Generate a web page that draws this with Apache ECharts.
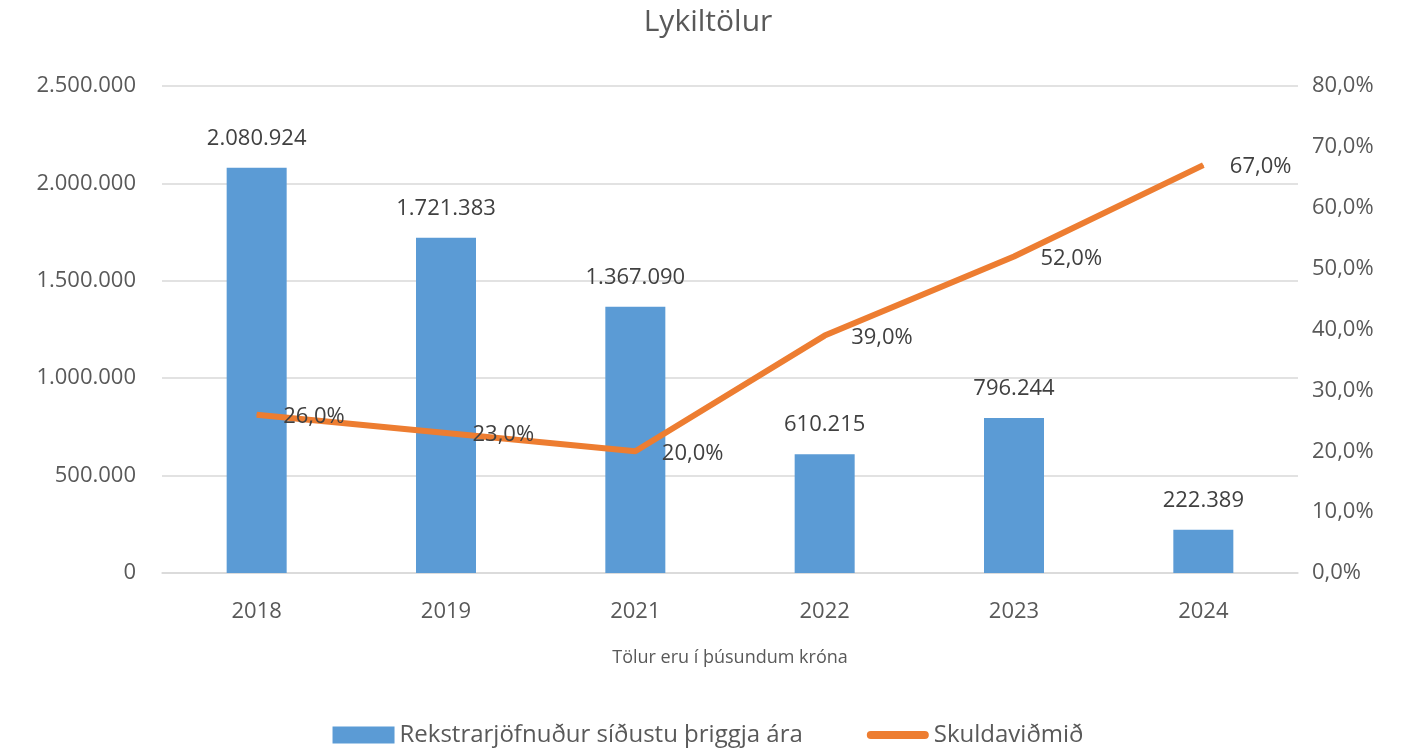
<!DOCTYPE html>
<html>
<head>
<meta charset="utf-8">
<script src="https://cdn.jsdelivr.net/npm/echarts@6/dist/echarts.min.js"></script>
<style>
  html, body { margin: 0; padding: 0; background: #fff; }
  #main { width: 1416px; height: 749px; }
</style>
</head>
<body>
<div id="main"></div>
<script>
// gögn
var years = ['2018', '2019', '2021', '2022', '2023', '2024']
var revenue = [2080924, 1721383, 1367090, 610215, 796244, 222389]
var debtRatio = [26.0, 23.0, 20.0, 39.0, 52.0, 67.0]

var FONT = '"Open Sans", "Noto Sans", sans-serif'
var GREY = '#595959'

function fmtNum (v) {
  return String(Math.round(v)).replace(/\B(?=(\d{3})+(?!\d))/g, '.')
}
function fmtPct (v) {
  return v.toFixed(1).replace('.', ',') + '%'
}

var myChart = echarts.init(document.getElementById('main'))
myChart.setOption({
  animation: false,
  textStyle: { fontFamily: FONT },
  title: {
    text: 'Lykiltölur',
    left: 'center',
    top: 2,
    textStyle: { fontSize: 30, fontWeight: 'normal', color: GREY, fontFamily: FONT }
  },
  grid: { left: 162, right: 118, top: 86, bottom: 176 },
  legend: {
    bottom: -3,
    left: 'center',
    itemGap: 64,
    itemWidth: 62,
    itemHeight: 17,
    textStyle: { fontSize: 24, color: GREY, fontFamily: FONT },
    data: [
      { name: 'Rekstrarjöfnuður síðustu þriggja ára', icon: 'rect' },
      { name: 'Skuldaviðmið', icon: 'path://M4,0 H58 A4,4 0 0 1 58,8 H4 A4,4 0 0 1 4,0 Z' }
    ]
  },
  xAxis: {
    type: 'category',
    data: years,
    name: 'Tölur eru í þúsundum króna',
    nameLocation: 'middle',
    nameGap: 76,
    nameTextStyle: { fontSize: 18, color: GREY },
    axisLine: { lineStyle: { color: '#D9D9D9', width: 1.5 } },
    axisTick: { show: false },
    axisLabel: { fontSize: 22, color: GREY, margin: 28 }
  },
  yAxis: [
    {
      type: 'value',
      min: 0,
      max: 2500000,
      interval: 500000,
      axisLine: { show: false },
      axisTick: { show: false },
      splitLine: { lineStyle: { color: '#D9D9D9', width: 1.5 } },
      axisLabel: { fontSize: 22, color: GREY, margin: 26, formatter: fmtNum }
    },
    {
      type: 'value',
      min: 0,
      max: 80,
      interval: 10,
      axisLine: { show: false },
      axisTick: { show: false },
      splitLine: { show: false },
      axisLabel: { fontSize: 22, color: GREY, margin: 14, formatter: fmtPct }
    }
  ],
  series: [
    {
      name: 'Rekstrarjöfnuður síðustu þriggja ára',
      type: 'bar',
      barWidth: 60,
      itemStyle: { color: '#5B9BD5' },
      label: {
        show: true,
        position: 'top',
        distance: 18,
        fontSize: 22,
        color: '#404040',
        formatter: function (p) { return fmtNum(p.value) }
      },
      data: revenue
    },
    {
      name: 'Skuldaviðmið',
      type: 'line',
      yAxisIndex: 1,
      symbol: 'circle',
      symbolSize: 1,
      showSymbol: true,
      lineStyle: { color: '#ED7D31', width: 6 },
      itemStyle: { color: '#ED7D31' },
      label: {
        show: true,
        position: 'right',
        distance: 26,
        offset: [0, 2],
        fontSize: 22,
        color: '#404040',
        formatter: function (p) { return fmtPct(p.value) }
      },
      data: debtRatio
    }
  ]
})
</script>
</body>
</html>
